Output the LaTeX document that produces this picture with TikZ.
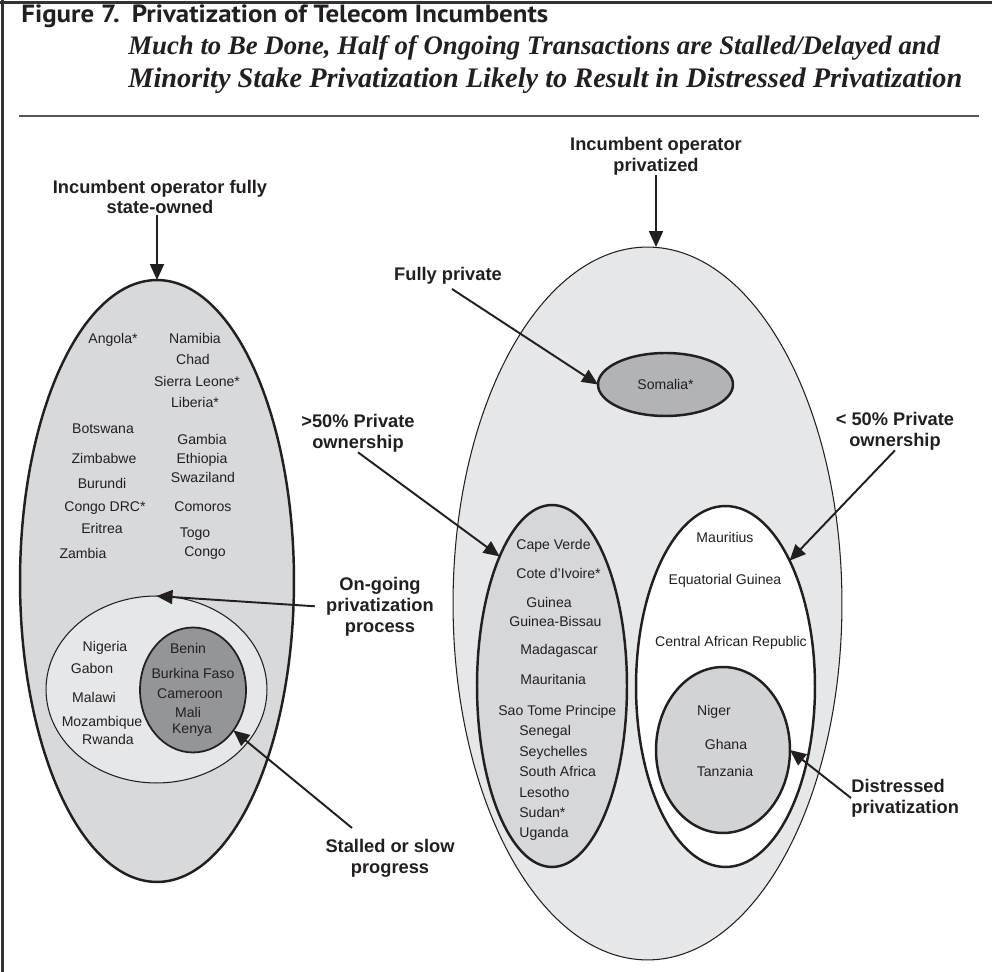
\documentclass[tikz,border=0pt]{standalone}
\usepackage{fontspec}
\usepackage{graphicx}
\setmainfont{Liberation Sans}
\newfontfamily\headsans{PT Sans}
\newfontfamily\headserif{Liberation Serif}
\usetikzlibrary{shapes.geometric,arrows.meta}
\definecolor{ink}{HTML}{231F20}
\definecolor{framegray}{HTML}{333333}
\definecolor{rulegray}{HTML}{555555}
\definecolor{stategray}{HTML}{D8D9DB}
\definecolor{palegray}{HTML}{E6E7E8}
\definecolor{darkgray}{HTML}{939598}
\definecolor{midgray}{HTML}{B1B3B6}
\definecolor{majgray}{HTML}{D6D7D9}
\definecolor{disgray}{HTML}{D2D3D5}
\begin{document}
\begin{tikzpicture}[x=0.02cm,y=-0.02cm,
  country/.style={font=\fontsize{8}{9.6}\selectfont, text=ink, inner sep=0pt,
                  text height=5.7pt, text depth=0pt},
  callout/.style={font=\bfseries\fontsize{10.4}{11.9}\selectfont, text=ink,
                  align=center, inner sep=0pt},
  region/.style={ellipse, draw=ink, inner sep=0pt, outer sep=0pt},
  heavy/.style={line width=1.4pt},
  light/.style={line width=0.6pt},
  pointer/.style={draw=ink, line width=1.1pt,
                  -{Triangle[length=0.32cm,width=0.28cm]}}]

% canvas
\fill[white] (0,0) rectangle (992,972);
\useasboundingbox (0,0) rectangle (992,972);

% frame and heading rule
\draw[framegray, line width=1.7pt] (0,3) -- (992,3);
\draw[framegray, line width=1.7pt] (2.5,0) -- (2.5,972);
\draw[rulegray, line width=1.1pt] (19,116) -- (979,116);

% heading
\node[anchor=base west, inner sep=0pt, text=ink] (ttl) at (21,23)
  {\resizebox*{10.54cm}{0.46cm}{\headsans\bfseries Figure 7.\hspace{0.45em}Privatization of Telecom Incumbents}};
\node[anchor=base west, inner sep=0pt, text=ink] (sub1) at (128,55)
  {\resizebox{16.24cm}{!}{\headserif\bfseries\itshape Much to Be Done, Half of Ongoing Transactions are Stalled/Delayed and}};
\node[anchor=base west, inner sep=0pt, text=ink] (sub2) at (128,88)
  {\resizebox{16.68cm}{!}{\headserif\bfseries\itshape Minority Stake Privatization Likely to Result in Distressed Privatization}};

% state-owned group
\node[region, heavy, fill=stategray, minimum width=5.48cm, minimum height=12.04cm] (leftBig) at (157,581) {};
\node[region, light, fill=palegray, minimum width=4.42cm, minimum height=3.74cm] (ongoing) at (156.5,689.5) {};
\node[region, line width=1pt, fill=darkgray, minimum width=2.12cm, minimum height=2.5cm] (stalled) at (193,690) {};

% privatized group
\node[region, light, fill=palegray, minimum width=7.78cm, minimum height=14.26cm] (rightBig) at (647.5,603.5) {};
\node[region, heavy, fill=midgray, minimum width=2.7cm, minimum height=1.26cm,
      country] (somalia) at (665.5,384.5) {Somalia*};
\node[region, heavy, fill=majgray, minimum width=3.0cm, minimum height=7.24cm] (major) at (552,686) {};
\node[region, heavy, fill=white, minimum width=3.58cm, minimum height=7.22cm] (minor) at (725.5,686.5) {};
\node[region, heavy, fill=disgray, minimum width=2.68cm, minimum height=3.32cm] (distress) at (723,750) {};

% country names, centred
\foreach \n/\x/\y/\t in {
  angola/113/338/{Angola*}, namibia/195/338/Namibia, chad/193/359/Chad,
  sierra/197/381/{Sierra Leone*}, liberia/195/402/{Liberia*},
  botswana/103/429/Botswana, gambia/202/439/Gambia,
  zimbabwe/104/458/Zimbabwe, ethiopia/202/458/Ethiopia,
  burundi/102/483/Burundi, swaziland/203/477/Swaziland,
  drc/105/506/{Congo DRC*}, comoros/203/506/Comoros,
  eritrea/102/528/Eritrea, togo/195/532/Togo,
  zambia/83/553/Zambia, congo/205/551/Congo,
  nigeria/105/646/Nigeria, gabon/92/668/Gabon, malawi/94/697/Malawi,
  mozambique/102/721/Mozambique, rwanda/108/739/Rwanda,
  benin/188/648/Benin, burkina/193/673/{Burkina Faso},
  cameroon/190/693/Cameroon, mali/188/712/Mali, kenya/192/728/Kenya,
  guinea/549/602/Guinea,
  mauritius/725/537/Mauritius, eqguinea/725/579/{Equatorial Guinea},
  car/731/641/{Central African Republic},
  niger/714/710/Niger, ghana/726/744/Ghana, tanzania/725/771/Tanzania}
  \node[country] (\n) at (\x,\y) {\t};

% country names, left-aligned column
\foreach \n/\x/\y/\t in {
  capeverde/516/544/{Cape Verde}, cote/516/573/{Cote d’Ivoire*},
  bissau/509/621/{Guinea-Bissau}, madagascar/520/649/Madagascar,
  mauritania/520/679/Mauritania, saotome/498/710/{Sao Tome Principe},
  senegal/519/730/Senegal, seychelles/519/751/Seychelles,
  southafrica/519/771/{South Africa}, lesotho/519/792/Lesotho,
  sudan/519/812/{Sudan*}, uganda/519/832/Uganda}
  \node[country, anchor=west] (\n) at (\x,\y) {\t};

% callouts
\node[callout] (stateLbl) at (160,197) {Incumbent operator fully\\state-owned};
\node[callout] (privLbl) at (656,156) {Incumbent operator\\privatized};
\node[callout] (fullyLbl) at (448,276) {Fully private};
\node[callout] (majLbl) at (358,433) {>50\% Private\\ownership};
\node[callout] (minLbl) at (895,431) {< 50\% Private\\ownership};
\node[callout] (ongLbl) at (380,607) {On-going\\privatization\\process};
\node[callout] (stallLbl) at (390,858) {Stalled or slow\\progress};
\node[callout, align=left, anchor=west] (disLbl) at (851,798) {Distressed\\privatization};

\coordinate (fullyTail) at (452,289);
\coordinate (stallTail) at (352,828);

% connectors
\draw[pointer] (stateLbl.south -| leftBig.north) -- (leftBig.north);
\draw[pointer] (privLbl.south) -- (privLbl.south |- rightBig.north);
\draw[pointer] (fullyTail) -- (somalia.west);
\draw[pointer] (majLbl.south) -- (major.112);
\draw[pointer] (minLbl.south) -- (minor.63);
\draw[pointer, shorten <=0.22cm] (ongLbl.west) -- (ongoing.north);
\draw[pointer] (stallTail) -- (stalled.-45);
\draw[pointer] (disLbl.west) -- (distress.east);
\end{tikzpicture}
\end{document}
